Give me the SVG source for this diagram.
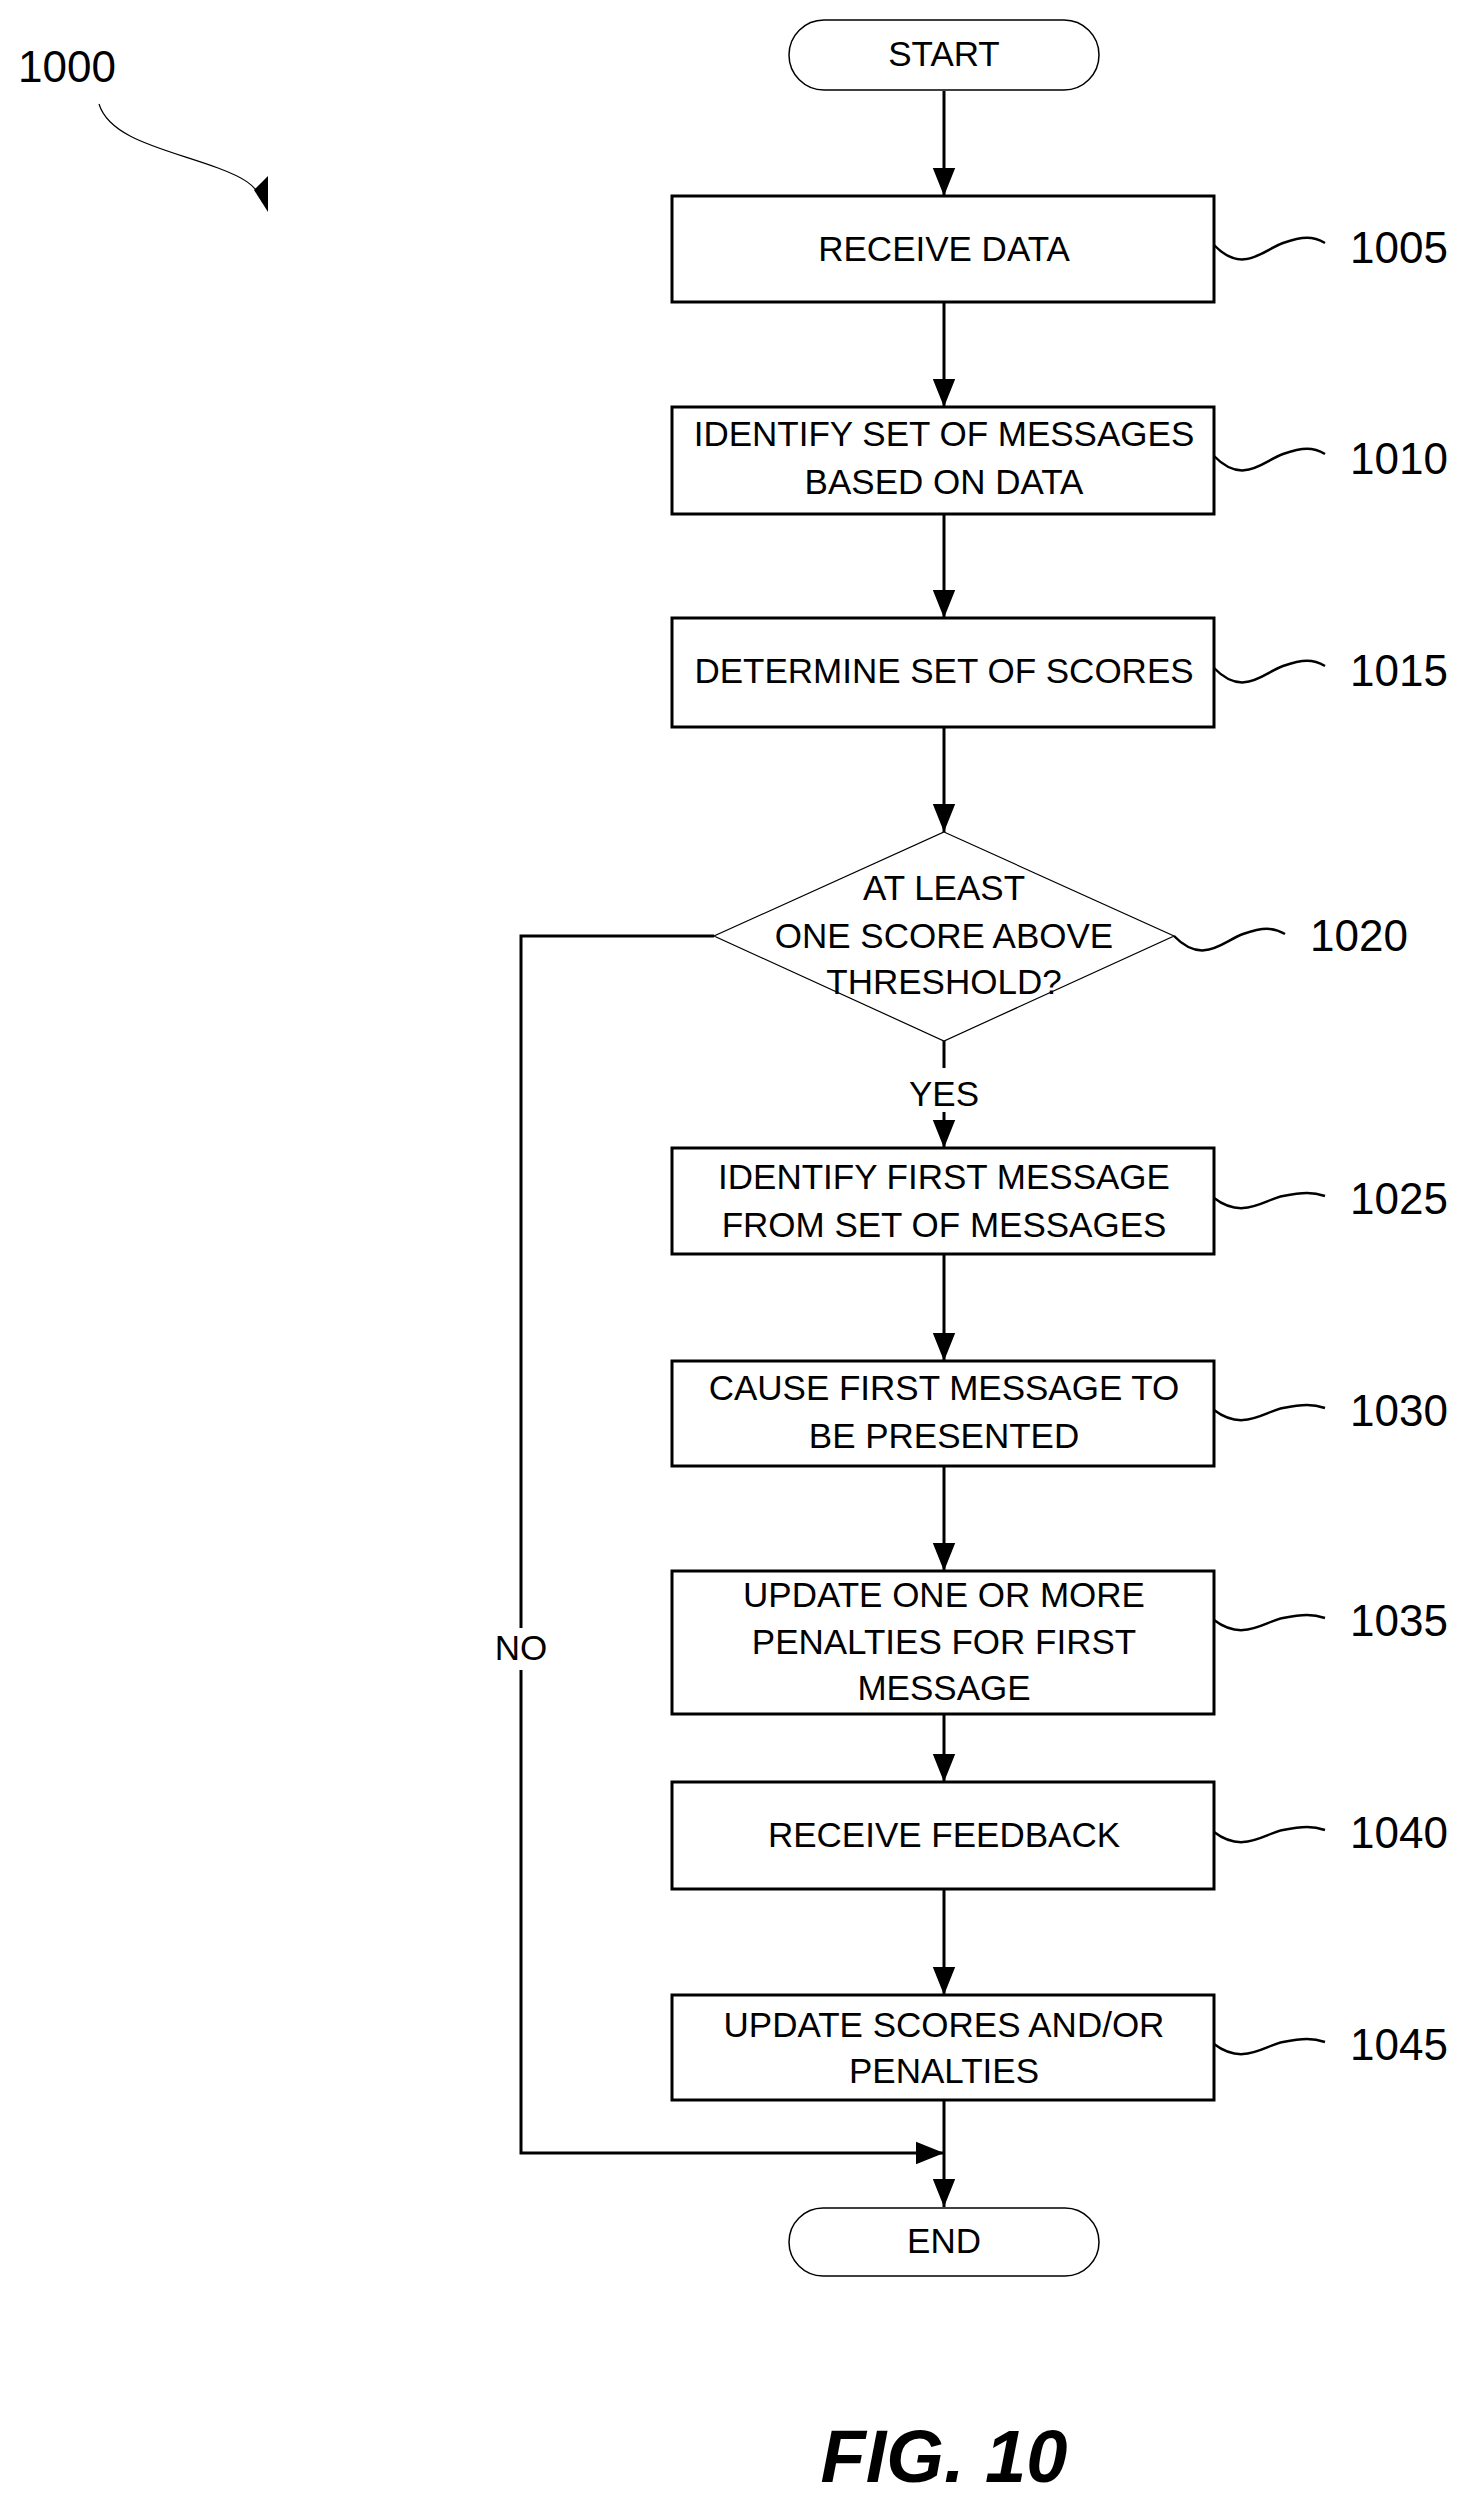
<svg xmlns="http://www.w3.org/2000/svg" width="1479" height="2504" viewBox="0 0 1479 2504">
<defs>
<marker id="ah2" viewBox="0 0 20 20" refX="20" refY="10" markerWidth="28" markerHeight="28" markerUnits="userSpaceOnUse" orient="auto"><path d="M0,2 L20,10 L0,18 z" fill="#000"/></marker>
</defs>
<style>
text{font-family:"Liberation Sans",Arial,sans-serif;fill:#000}
.t{font-size:35px;text-anchor:middle}
.r{font-size:44px}
.box{fill:#fff;stroke:#000;stroke-width:3}
.term{fill:#fff;stroke:#000;stroke-width:1.5}
.c{fill:none;stroke:#000;stroke-width:3}
.sq{fill:none;stroke:#000;stroke-width:2.5}
</style>
<rect width="1479" height="2504" fill="#fff"/>
<g id="label1000">
<text x="18" y="82" style="font-size:44px">1000</text>
<path d="M99,104 C110,140 170,150 218,168 C245,178 254,185 262,198" fill="none" stroke="#000" stroke-width="1.2"/>
<path d="M254,190 L268,176 L268,212 z" fill="#000"/>
</g>
<g id="connectors">
<path class="c" d="M944,91 V196" marker-end="url(#ah2)"/>
<path class="c" d="M944,302 V407" marker-end="url(#ah2)"/>
<path class="c" d="M944,514 V618" marker-end="url(#ah2)"/>
<path class="c" d="M944,727 V832" marker-end="url(#ah2)"/>
<path class="c" d="M944,1041 V1068"/>
<path class="c" d="M944,1112 V1148" marker-end="url(#ah2)"/>
<path class="c" d="M944,1254 V1361" marker-end="url(#ah2)"/>
<path class="c" d="M944,1466 V1571" marker-end="url(#ah2)"/>
<path class="c" d="M944,1714 V1782" marker-end="url(#ah2)"/>
<path class="c" d="M944,1889 V1995" marker-end="url(#ah2)"/>
<path class="c" d="M944,2100 V2207" marker-end="url(#ah2)"/>
<path class="c" d="M714,936 H521 V1628"/>
<path class="c" d="M521,1670 V2153 H944" marker-end="url(#ah2)"/>
<text x="944" y="1106" class="t">YES</text>
<text x="521" y="1660" class="t">NO</text>
</g>
<g id="start"><rect class="term" x="789" y="20" width="310" height="70" rx="35"/><text class="t" x="944" y="66">START</text></g>
<g id="n1005"><rect class="box" x="672" y="196" width="542" height="106"/><text class="t" x="944" y="261">RECEIVE DATA</text>
<path class="sq" d="M1214,245 C1243,275 1263,250 1283,243 C1303,236 1313,236 1325,243"/><text class="r" x="1350" y="263">1005</text></g>
<g id="n1010"><rect class="box" x="672" y="407" width="542" height="107"/><text class="t" x="944" y="446">IDENTIFY SET OF MESSAGES</text><text class="t" x="944" y="494">BASED ON DATA</text>
<path class="sq" d="M1214,456 C1243,486 1263,461 1283,454 C1303,447 1313,447 1325,454"/><text class="r" x="1350" y="474">1010</text></g>
<g id="n1015"><rect class="box" x="672" y="618" width="542" height="109"/><text class="t" x="944" y="683">DETERMINE SET OF SCORES</text>
<path class="sq" d="M1214,668 C1243,698 1263,673 1283,666 C1303,659 1313,659 1325,666"/><text class="r" x="1350" y="686">1015</text></g>
<g id="n1020"><path d="M944,832 L1174,936 L944,1041 L714,936 z" fill="#fff" stroke="#000" stroke-width="1.2"/>
<text class="t" x="944" y="900">AT LEAST</text><text class="t" x="944" y="948">ONE SCORE ABOVE</text><text class="t" x="944" y="994">THRESHOLD?</text>
<path class="sq" d="M1174,936 C1203,966 1223,941 1243,934 C1263,927 1273,927 1285,934"/><text class="r" x="1310" y="951">1020</text></g>
<g id="n1025"><rect class="box" x="672" y="1148" width="542" height="106"/><text class="t" x="944" y="1189">IDENTIFY FIRST MESSAGE</text><text class="t" x="944" y="1237">FROM SET OF MESSAGES</text>
<path class="sq" d="M1214,1198 C1243,1220 1263,1200 1283,1196 C1303,1192 1313,1192 1325,1196"/><text class="r" x="1350" y="1214">1025</text></g>
<g id="n1030"><rect class="box" x="672" y="1361" width="542" height="105"/><text class="t" x="944" y="1400">CAUSE FIRST MESSAGE TO</text><text class="t" x="944" y="1448">BE PRESENTED</text>
<path class="sq" d="M1214,1410 C1243,1432 1263,1412 1283,1408 C1303,1404 1313,1404 1325,1408"/><text class="r" x="1350" y="1426">1030</text></g>
<g id="n1035"><rect class="box" x="672" y="1571" width="542" height="143"/><text class="t" x="944" y="1607">UPDATE ONE OR MORE</text><text class="t" x="944" y="1654">PENALTIES FOR FIRST</text><text class="t" x="944" y="1700">MESSAGE</text>
<path class="sq" d="M1214,1620 C1243,1642 1263,1622 1283,1618 C1303,1614 1313,1614 1325,1618"/><text class="r" x="1350" y="1636">1035</text></g>
<g id="n1040"><rect class="box" x="672" y="1782" width="542" height="107"/><text class="t" x="944" y="1847">RECEIVE FEEDBACK</text>
<path class="sq" d="M1214,1832 C1243,1854 1263,1834 1283,1830 C1303,1826 1313,1826 1325,1830"/><text class="r" x="1350" y="1848">1040</text></g>
<g id="n1045"><rect class="box" x="672" y="1995" width="542" height="105"/><text class="t" x="944" y="2037">UPDATE SCORES AND/OR</text><text class="t" x="944" y="2083">PENALTIES</text>
<path class="sq" d="M1214,2044 C1243,2066 1263,2046 1283,2042 C1303,2038 1313,2038 1325,2042"/><text class="r" x="1350" y="2060">1045</text></g>
<g id="end"><rect class="term" x="789" y="2208" width="310" height="68" rx="34"/><text class="t" x="944" y="2253">END</text></g>
<text x="944" y="2482" style="font-size:74px;font-weight:bold;font-style:italic;text-anchor:middle">FIG. 10</text>
</svg>
